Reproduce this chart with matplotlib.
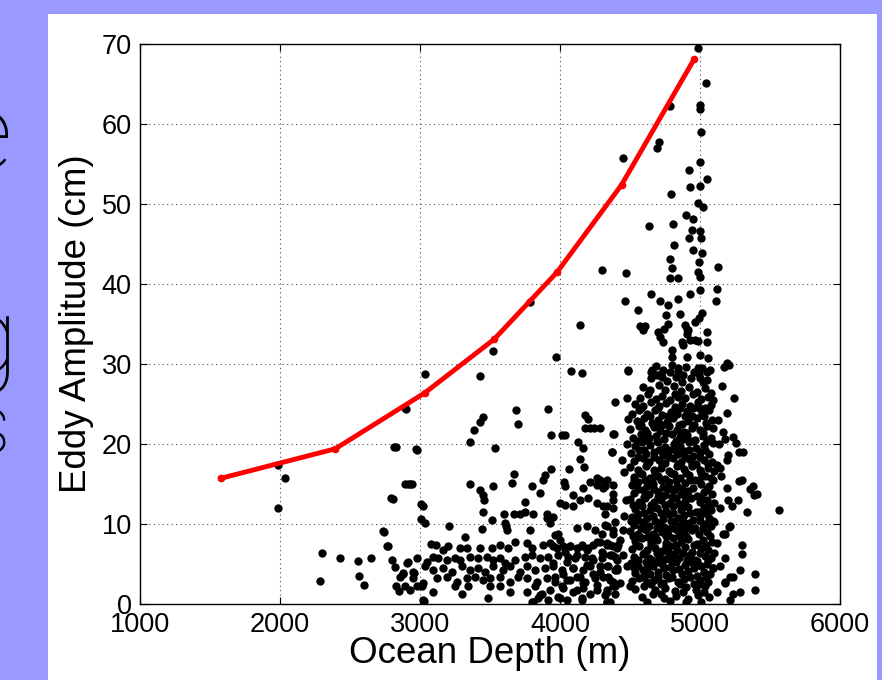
import matplotlib
matplotlib.use("Agg")
import matplotlib.pyplot as plt
from matplotlib.patches import Rectangle
import numpy as np

# red envelope curve
curve_depth = [1575, 2395, 3035, 3530, 3980, 4440, 4958]
curve_amp = [15.7, 19.4, 26.4, 33.1, 41.5, 52.4, 68.1]

# eddies (depth m, amplitude cm)
pts_upper = [
    (4987, 69.5), (5040, 65.1), (4997, 62.4), (5000, 61.9), (4786, 62.3), (5008, 59.0),
    (4709, 57.8), (4696, 57.0), (4450, 55.7), (4997, 55.2), (4921, 54.3), (5050, 53.1),
    (4796, 51.3), (4926, 52.1), (4997, 52.3), (4989, 50.1), (5018, 49.6), (4899, 48.6),
    (4952, 48.1), (4635, 47.3), (4804, 47.5), (4944, 46.8), (5000, 46.6), (4918, 45.8),
    (5005, 45.8), (4812, 44.9), (4947, 44.3), (5013, 43.9), (4786, 43.1), (4801, 42.0),
    (4992, 42.8), (5132, 42.1), (4984, 41.5), (5000, 40.9), (4302, 41.8), (4468, 41.4),
    (4786, 40.8), (4841, 40.8), (5122, 39.4), (4997, 39.3), (4651, 38.8), (4929, 38.7),
    (4463, 37.9), (5111, 37.9), (4717, 37.9), (4770, 37.4), (4841, 38.1), (3788, 37.8),
    (4558, 36.8), (5011, 36.4), (4992, 35.8), (4757, 36.1), (4860, 36.3), (4963, 35.2),
    (4140, 34.9), (4572, 34.7), (4607, 34.8), (4596, 34.2), (4770, 35.0), (4743, 34.4),
    (4910, 34.4), (5050, 34.0), (4703, 34.0), (4715, 33.4), (4738, 32.8), (4893, 34.9),
    (4917, 34.2), (4905, 33.8), (4869, 32.8), (4881, 32.4), (4929, 33.0), (4965, 33.0),
    (4988, 32.9), (5048, 32.7), (3524, 31.6), (4798, 31.8), (4798, 30.9), (4905, 30.9),
    (5000, 31.1), (5060, 30.7), (3974, 30.9), (4484, 29.1), (4077, 29.1), (4156, 28.9),
    (4648, 29.0), (3034, 28.8), (3426, 28.5), (5204, 29.9), (5169, 29.6), (5190, 30.1),
    (5072, 29.3), (4488, 29.2), (4655, 29.2), (4691, 28.6), (4726, 28.4), (4786, 29.0),
    (4845, 29.5), (4881, 28.6), (4988, 29.5), (5048, 29.0), (5000, 28.2), (5024, 27.8),
    (5155, 27.3), (5243, 25.8), (5190, 23.9),
]

pts_mid = [
    (2902, 24.4), (3683, 24.2), (3701, 22.5), (3915, 24.4), (4393, 25.2), (3452, 23.4),
    (3428, 22.7), (3386, 21.8), (4180, 23.6), (4202, 23.1), (4180, 22.0), (4214, 22.0),
    (4246, 22.0), (3939, 21.1), (4012, 21.1), (4036, 21.1), (4384, 21.2), (3360, 20.2),
    (2825, 19.6), (2981, 19.3), (3533, 19.5), (4132, 20.2), (4165, 19.5), (4370, 19.0),
    (4286, 22.0), (4145, 18.1), (5278, 19.0), (5257, 20.1), (5238, 20.9), (5177, 20.6),
    (5167, 21.5), (5310, 19.0), (5203, 18.6), (5190, 18.0), (5124, 17.4), (5140, 17.0),
    (4066, 16.9), (4172, 17.1), (3939, 16.9), (3894, 16.1), (3881, 15.5), (3669, 16.2),
    (2915, 15.0), (2942, 15.0), (3360, 15.0), (3524, 14.8), (3431, 14.3), (3452, 13.6),
    (3458, 13.0), (3656, 15.1), (3802, 14.7), (3854, 13.9), (4026, 15.2), (4036, 14.7),
    (4093, 13.6), (4212, 15.2), (4265, 15.8), (4167, 14.5), (4262, 14.9), (4310, 14.5),
    (4333, 15.5), (4381, 13.8), (5278, 15.4), (5298, 15.5), (5357, 14.4), (5381, 14.7),
    (5405, 13.8), (5384, 13.6), (5561, 11.7), (2804, 13.1), (3008, 12.5), (3021, 12.3),
    (3749, 12.8), (3603, 11.2), (3669, 11.2), (3714, 11.3), (3750, 11.5), (3810, 11.3),
    (3905, 11.2), (3452, 11.5), (3511, 10.5), (3008, 10.6), (3034, 10.1), (3206, 9.8),
    (3616, 9.8), (3607, 10.1), (3619, 9.2), (3788, 9.3), (3929, 10.1), (3444, 9.4),
    (2743, 9.0), (2769, 7.2), (3114, 7.4), (3321, 8.4), (3076, 7.5), (3905, 10.7),
    (3952, 10.9), (4000, 12.6), (4036, 12.4), (4095, 12.2), (4143, 13.0), (4202, 13.2),
    (4262, 12.6), (4333, 12.2), (4381, 13.0), (3964, 8.6), (3988, 8.8), (4119, 9.5),
    (4190, 9.7), (4250, 9.2), (4321, 9.9), (4381, 9.2),
]

pts_right = [
    (5190, 14.5), (5226, 12.2), (5274, 13.0), (5203, 13.0), (5143, 12.0), (5333, 11.5),
    (5214, 9.7), (5179, 8.8), (5119, 7.6), (5298, 7.4), (5298, 6.3), (5179, 5.7),
    (5143, 4.7), (5286, 4.2), (5238, 3.4), (5179, 2.6), (5393, 3.8), (5393, 1.7),
    (5286, 1.5), (5238, 1.3), (5214, 0.5), (5119, 1.5), (5164, 8.8), (5204, 9.6),
    (5177, 2.8), (5217, 3.4), (5150, 16.0), (5135, 20.0), (5130, 23.0),
]

pts_left = [
    (4286, 15.5), (4322, 14.7), (4381, 14.9), (4310, 12.2), (4381, 12.0), (4322, 11.3),
    (4393, 10.3), (4334, 9.7), (4298, 8.8), (4381, 8.8), (4453, 9.2), (4429, 8.0),
    (4357, 7.4), (4310, 6.3), (4393, 5.9), (4453, 6.1), (4334, 4.7), (4405, 4.2),
    (4476, 4.7), (4357, 3.0), (4429, 2.6), (4334, 1.7), (4500, 2.2), (4393, 1.3),
    (4334, 0.3), (4476, 25.8), (4484, 23.1), (4381, 21.3), (4369, 19.0), (4460, 16.5),
    (4470, 13.0), (4455, 11.0), (4440, 18.0), (4480, 20.0),
    (1986, 17.4), (2036, 15.7), (1986, 12.0), (2300, 6.4), (2286, 2.9), (2429, 5.7),
    (2557, 5.4), (2564, 3.5), (2600, 2.4), (2650, 5.7), (2736, 9.1), (2764, 7.3),
    (2793, 13.2), (2814, 19.6), (2893, 24.5), (2893, 15.0), (2929, 15.0), (2971, 19.4),
    (2800, 5.5), (2821, 4.6), (2914, 5.3), (2879, 3.9), (2829, 2.3), (2893, 2.2),
    (2850, 1.6), (2957, 3.9), (2979, 2.3), (3026, 0.4),
]

pts_band = [
    (3167, 6.8), (3202, 7.2), (3286, 7.0), (3333, 7.0), (3428, 7.0), (3512, 7.0),
    (3571, 7.4), (3631, 7.0), (3678, 7.8), (3762, 7.6), (3798, 7.0), (3881, 7.4),
    (3952, 7.2), (4024, 7.2), (4071, 7.2), (4119, 7.0), (4155, 7.2), (4202, 7.0),
    (4238, 7.4), (4286, 7.8), (4333, 7.6), (4381, 7.2), (4417, 7.4),
    (2905, 5.1), (2976, 5.7), (3047, 5.3), (3095, 5.9), (3131, 5.7), (3190, 5.5),
    (3250, 5.7), (3286, 5.5), (3357, 5.9), (3417, 5.7), (3476, 5.9), (3524, 5.5),
    (3571, 5.7), (3607, 5.1), (3678, 5.5), (3750, 5.9), (3798, 6.1), (3857, 5.7),
    (3917, 5.9), (3988, 6.1), (4059, 5.9), (4107, 5.7), (4178, 5.9), (4238, 5.5),
    (4297, 5.7), (4357, 6.1), (4405, 5.5),
    (2881, 3.8), (2952, 4.0), (3036, 4.7), (3095, 4.2), (3167, 4.5), (3226, 4.0),
    (3297, 4.7), (3357, 4.2), (3417, 4.5), (3464, 4.0), (3524, 4.7), (3595, 4.2),
    (3643, 4.7), (3714, 4.0), (3762, 4.7), (3821, 4.2), (3893, 4.5), (3952, 4.7),
    (4024, 3.8), (4095, 4.5), (4167, 4.2), (4214, 4.7), (4286, 4.0), (4345, 4.7),
    (4405, 4.5),
    (2857, 3.4), (2952, 3.2), (3024, 2.6), (3119, 3.2), (3190, 3.4), (3262, 2.8),
    (3333, 3.2), (3393, 3.4), (3452, 3.0), (3500, 3.2), (3571, 3.4), (3643, 2.8),
    (3702, 3.4), (3762, 3.2), (3833, 2.8), (3905, 3.2), (3964, 3.4), (4047, 3.0),
    (4119, 3.4), (4178, 2.8), (4250, 3.2), (4309, 3.4), (4381, 2.8),
    (2928, 1.7), (3012, 2.2), (3095, 1.5), (3250, 2.2), (3297, 1.3), (3345, 2.2),
    (3500, 2.2), (3571, 2.2), (3643, 1.5), (3762, 1.5), (3821, 2.2), (3869, 1.3),
    (3928, 1.7), (4024, 2.0), (4095, 1.5), (4167, 2.0), (4262, 1.7), (4333, 1.5),
    (4393, 2.2),
    (3024, 0.5), (3488, 0.7), (3809, 0.3), (3845, 0.7), (3917, 0.5), (4000, 0.7),
    (4155, 0.5), (4357, 0.3),
    (3929, 7.6), (3976, 7.0), (4000, 8.0), (4036, 6.5), (4071, 7.2), (4119, 6.1),
    (4155, 7.4), (4190, 6.8), (4226, 5.7), (4262, 7.8), (4298, 6.5), (4333, 7.4),
    (4369, 6.1), (4405, 7.0), (3952, 5.1), (4012, 4.2), (4048, 5.3), (4095, 4.5),
    (4143, 3.4), (4190, 4.9), (4238, 3.8), (4286, 4.7), (4345, 3.4), (4393, 4.2),
    (3964, 2.8), (4012, 2.2), (4071, 3.0), (4119, 1.7), (4167, 2.6), (4214, 1.3),
    (4262, 2.4), (4321, 1.1), (4381, 2.2), (3988, 0.9), (4048, 0.5), (4155, 0.7),
    (4333, 0.3), (3798, 0.3), (3857, 1.1),
]

pts_core = [
    (4688, 29.8), (4735, 29.3), (4802, 29.9), (4846, 29.1), (4897, 29.6), (4955, 29.0), (5012, 29.5),
    (4652, 28.3), (4718, 28.7), (4764, 27.9), (4829, 28.4), (4873, 27.8), (4936, 28.2), (4993, 28.8),
    (5047, 28.0),
    (4596, 27.1), (4641, 26.7), (4705, 27.4), (4752, 26.8), (4815, 27.2), (4866, 26.6), (4924, 27.1),
    (4978, 26.5), (5033, 27.0), (5079, 26.4),
    (4572, 25.8), (4627, 26.2), (4683, 25.6), (4731, 26.0), (4784, 25.5), (4842, 25.9), (4893, 25.7),
    (4951, 26.3), (5006, 25.6), (5058, 25.9),
    (4538, 25.0), (4596, 24.7), (4648, 25.3), (4706, 24.8), (4757, 25.1), (4818, 24.6), (4872, 25.0),
    (4925, 24.7), (4983, 25.2), (5035, 24.5), (5082, 24.9),
    (4514, 23.7), (4566, 24.2), (4619, 23.8), (4676, 24.3), (4728, 23.6), (4793, 24.0), (4837, 23.7),
    (4904, 24.1), (4946, 23.5), (5013, 23.9), (5061, 24.3),
    (4548, 22.9), (4603, 23.2), (4655, 22.6), (4697, 23.0), (4762, 22.7), (4808, 23.3), (4869, 22.5),
    (4917, 22.9), (4979, 23.2), (5041, 22.6), (5088, 23.0),
    (4503, 21.9), (4562, 22.2), (4607, 21.7), (4671, 22.1), (4716, 21.6), (4777, 22.3), (4834, 21.8),
    (4886, 21.5), (4943, 22.0), (4997, 21.7), (5052, 22.2),
    (4524, 20.8), (4577, 21.2), (4634, 20.7), (4688, 21.0), (4743, 20.6), (4798, 21.3), (4855, 20.9),
    (4907, 21.1), (4962, 20.5), (5018, 21.0), (5077, 20.7),
    (4533, 19.8), (4588, 20.2), (4645, 19.9), (4703, 20.3), (4749, 19.6), (4812, 20.0), (4858, 19.7),
    (4921, 20.2), (4968, 19.5), (5027, 19.9), (5094, 20.1),
    (4508, 18.9), (4564, 19.2), (4617, 18.7), (4672, 19.0), (4733, 18.6), (4781, 19.3), (4843, 18.8),
    (4888, 19.1), (4952, 18.5), (5003, 19.0), (5062, 18.7),
    (4528, 17.9), (4593, 18.2), (4637, 17.7), (4704, 18.0), (4753, 17.6), (4806, 18.3), (4863, 17.8),
    (4918, 18.1), (4973, 17.5), (5028, 18.0), (5083, 17.8),
    (4502, 17.1), (4558, 16.8), (4613, 17.3), (4668, 16.7), (4724, 17.0), (4777, 16.6), (4834, 17.2),
    (4887, 16.9), (4944, 17.3), (4998, 16.7), (5054, 17.0), (5102, 16.6),
    (4532, 15.9), (4587, 16.2), (4643, 15.7), (4697, 16.0), (4752, 15.6), (4813, 16.3), (4857, 15.8),
    (4923, 16.1), (4967, 15.5), (5033, 16.0), (5078, 15.7),
    (4513, 14.9), (4557, 15.2), (4622, 14.7), (4666, 15.0), (4734, 14.6), (4782, 15.3), (4838, 14.8),
    (4894, 15.1), (4948, 14.5), (5004, 15.0), (5063, 14.7),
    (4527, 13.9), (4594, 14.2), (4638, 13.7), (4702, 14.0), (4747, 13.6), (4814, 14.3), (4862, 13.8),
    (4916, 14.1), (4976, 13.5), (5029, 14.0), (5084, 13.7),
    (4498, 13.1), (4563, 12.8), (4609, 13.3), (4673, 12.7), (4718, 13.0), (4783, 12.6), (4828, 13.2),
    (4893, 12.9), (4937, 13.3), (5002, 12.7), (5048, 13.0), (5097, 12.6),
    (4534, 11.9), (4586, 12.2), (4644, 11.7), (4696, 12.0), (4754, 11.6), (4807, 12.3), (4864, 11.8),
    (4917, 12.1), (4972, 11.5), (5026, 12.0), (5081, 11.8),
    (4511, 10.9), (4559, 11.2), (4624, 10.7), (4667, 11.0), (4736, 10.6), (4778, 11.3), (4843, 10.8),
    (4886, 11.1), (4953, 10.5), (4997, 11.0), (5064, 10.7),
    (4529, 9.9), (4596, 10.2), (4636, 9.7), (4704, 10.0), (4746, 9.6), (4816, 10.3), (4857, 9.8),
    (4924, 10.1), (4966, 9.5), (5034, 10.0), (5079, 9.7),
    (4503, 9.1), (4557, 8.8), (4614, 9.3), (4664, 8.7), (4727, 9.0), (4773, 8.6), (4834, 9.2),
    (4884, 8.9), (4946, 9.3), (4996, 8.7), (5053, 9.0),
    (4536, 7.9), (4588, 8.2), (4647, 7.7), (4694, 8.0), (4757, 7.6), (4804, 8.3), (4866, 7.8),
    (4913, 8.1), (4977, 7.5), (5024, 8.0), (5086, 7.8),
    (4514, 6.9), (4562, 7.2), (4618, 6.7), (4676, 7.0), (4728, 6.6), (4787, 7.3), (4836, 6.8),
    (4895, 7.1), (4944, 6.5), (5007, 7.0), (5058, 6.7),
    (4531, 5.9), (4593, 6.2), (4639, 5.7), (4707, 6.0), (4748, 5.6), (4817, 6.3), (4853, 5.8),
    (4926, 6.1), (4964, 5.5), (5036, 6.0), (5076, 5.8),
    (4507, 5.1), (4554, 4.8), (4616, 5.3), (4663, 4.7), (4726, 5.0), (4784, 4.6), (4827, 5.2),
    (4896, 4.9), (4938, 5.3), (5004, 4.7), (5049, 5.0),
    (4533, 3.9), (4591, 4.2), (4646, 3.7), (4698, 4.0), (4756, 3.6), (4806, 4.3), (4868, 3.8),
    (4912, 4.1), (4978, 3.5), (5027, 4.0), (5074, 3.8),
    (4516, 2.9), (4566, 3.2), (4622, 2.7), (4674, 3.0), (4737, 2.6), (4776, 3.3), (4843, 2.8),
    (4887, 3.1), (4956, 2.5), (5002, 3.0), (5057, 2.7),
    (4537, 1.9), (4603, 2.2), (4678, 1.7), (4752, 2.0), (4823, 1.6), (4897, 2.1), (4968, 1.8),
    (5038, 2.2),
    (4583, 0.9), (4662, 1.2), (4744, 0.8), (4827, 1.0), (4912, 0.6), (4988, 1.1), (5063, 0.9),
    (4624, 0.3), (4786, 0.4), (4903, 0.2), (5006, 0.3),
    (4610, 20.5), (4735, 19.4), (4880, 20.6), (4660, 15.4), (4790, 14.4), (4930, 15.5),
    (4580, 12.5), (4720, 11.4), (4850, 12.5), (4990, 11.5), (4625, 8.4), (4760, 7.3),
    (4900, 8.5), (5040, 7.4), (4700, 5.3), (4850, 4.4), (4980, 5.4), (4560, 10.5),
    (4770, 9.4), (4960, 17.5), (4690, 22.5), (4820, 26.3), (4950, 24.5), (4600, 3.5),
    (4720, 1.3), (4880, 1.5), (5030, 1.5), (5095, 4.5), (5100, 10.3), (5096, 22.0),
    (5090, 25.5),
]

# extra points filling the blackest part of the cloud
pts_fill = [
    (4580, 24.5), (4700, 24.5), (4860, 24.5), (4990, 24.5),
    (4640, 23.5), (4770, 23.5), (4890, 23.5), (5030, 23.5),
    (4580, 22.4), (4730, 22.4), (4850, 22.4), (4960, 22.4),
    (4620, 21.4), (4760, 21.4), (4900, 21.4), (5020, 21.4),
    (4560, 20.4), (4690, 20.4), (4830, 20.4), (4940, 20.4), (5050, 20.4),
    (4600, 19.3), (4710, 19.3), (4820, 19.3), (4920, 19.3), (5035, 19.3),
    (4560, 18.4), (4670, 18.4), (4780, 18.4), (4890, 18.4), (5000, 18.4),
    (4620, 17.5), (4730, 17.5), (4840, 17.5), (4940, 17.5), (5060, 17.5),
    (4570, 16.4), (4680, 16.4), (4790, 16.4), (4900, 16.4), (5010, 16.4),
    (4530, 15.5), (4610, 15.5), (4720, 15.5), (4830, 15.5), (4990, 15.5), (5090, 15.5),
    (4560, 14.4), (4670, 14.4), (4770, 14.4), (4870, 14.4), (5050, 14.4),
    (4600, 13.4), (4700, 13.4), (4800, 13.4), (4910, 13.4), (5010, 13.4),
    (4520, 12.4), (4650, 12.4), (4750, 12.4), (4890, 12.4), (5060, 12.4),
    (4600, 11.4), (4810, 11.4), (4930, 11.4), (5040, 11.4),
    (4510, 10.4), (4680, 10.4), (4790, 10.4), (4880, 10.4), (5000, 10.4), (5090, 10.4),
    (4580, 9.5), (4690, 9.5), (4800, 9.5), (4900, 9.5), (5020, 9.5),
    (4520, 8.5), (4680, 8.5), (4760, 8.5), (4850, 8.5), (5070, 8.5),
    (4540, 7.4), (4650, 7.4), (4830, 7.4), (4960, 7.4),
    (4600, 6.4), (4690, 6.4), (4780, 6.4), (4880, 6.4), (5000, 6.4), (5100, 6.4),
    (4560, 5.5), (4660, 5.5), (4790, 5.5), (4910, 5.5), (5060, 5.5),
    (4530, 4.5), (4620, 4.5), (4740, 4.5), (4960, 4.5), (5090, 4.5),
    (4590, 3.4), (4700, 3.4), (4800, 3.4), (4930, 3.4), (5040, 3.4),
    (4650, 2.5), (4720, 2.5), (4860, 2.5), (5000, 2.5),
]

all_pts = np.array(pts_upper + pts_mid + pts_right + pts_left + pts_band + pts_core + pts_fill)
depth = all_pts[:, 0]
amp = all_pts[:, 1]

fig = plt.figure(figsize=(8.82, 6.8), dpi=100)
fig.patch.set_facecolor("#9999ff")

# slide fragments peeking out behind the white panel
side = dict(family=["Roboto", "DejaVu Sans"], fontweight="light", ha="right", va="baseline", zorder=-3)
fig.text(12/882, 1 - 168/680, "e", fontsize=76, **side)
fig.text(18/882, 1 - 372/680, "g", fontsize=76, **side)
fig.text(10/882, 1 - 453/680, "s", fontsize=60, **side)
fig.add_artist(Rectangle((48/882, 0), (877-48)/882, 666/680, transform=fig.transFigure,
                         facecolor="white", edgecolor="none", zorder=-1))

ax = fig.add_axes([140/882, 76/680, 700/882, 560/680])
ax.plot(depth, amp, "o", color="black", markersize=6, markeredgewidth=0, zorder=2)
ax.plot(curve_depth, curve_amp, "-o", color="red", linewidth=3.5, markersize=4.5, zorder=3)

ax.set_xlim(1000, 6000)
ax.set_ylim(0, 70)
ax.set_xticks(np.arange(1000, 6001, 1000))
ax.set_yticks(np.arange(0, 71, 10))
ax.grid(True, linestyle=(0, (1, 3)), color="0.3", linewidth=0.8)
ax.tick_params(direction="in", top=True, right=True, length=5, width=0.8,
               labelsize=19.5, pad=6)
for lab in ax.get_xticklabels() + ax.get_yticklabels():
    lab.set_family("Liberation Sans")
for sp in ax.spines.values():
    sp.set_linewidth(1.0)

ax.set_xlabel("Ocean Depth (m)", fontsize=26.5, family="Liberation Sans")
ax.set_ylabel("Eddy Amplitude (cm)", fontsize=26.5, family="Liberation Sans")
ax.xaxis.set_label_coords(0.5, -0.058)
ax.yaxis.set_label_coords(-0.066, 0.5)

fig.savefig("out.png", dpi=100, facecolor=fig.get_facecolor())
